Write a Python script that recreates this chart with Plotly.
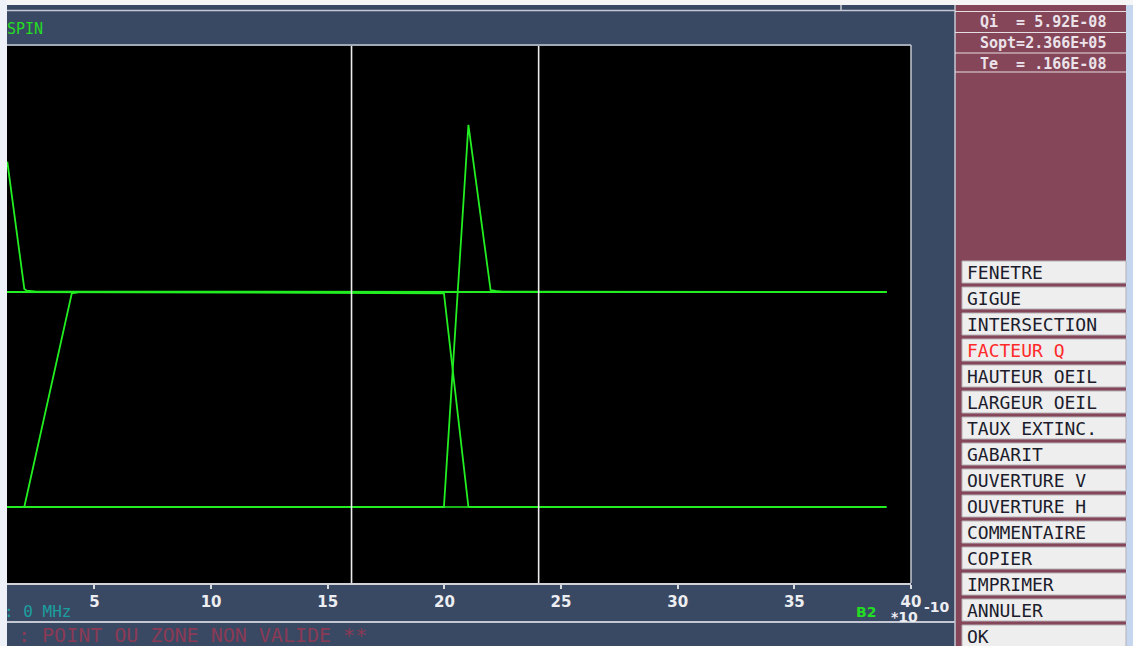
import plotly.graph_objects as go

# ---- data (time axis in units of 1e-10 s, amplitude in normalised levels) ----
baseline_x = [1.253, 38.95]
level_high = [1.0, 1.0]
level_low = [0.0, 0.0]

fall_left_x = [1.266, 1.996, 2.10, 2.53, 38.95]
fall_left_y = [1.606, 1.014, 1.006, 1.002, 1.0]

rise_left_x = [1.253, 1.996, 4.03, 4.39, 38.95]
rise_left_y = [0.0, 0.001, 0.994, 1.0, 1.0]

rise_peak_x = [1.253, 19.98, 21.03, 21.98, 22.20, 22.48, 38.95]
rise_peak_y = [0.0, 0.0, 1.777, 1.009, 1.005, 1.001, 1.0]

fall_mid_x = [1.253, 19.98, 21.03, 21.47, 38.95]
fall_mid_y = [1.0, 0.994, 0.001, 0.0, 0.0]

markers_x = [16.02, 24.04]

tick_vals = [5, 10, 15, 20, 25, 30, 35, 40]
tick_text = ["5", "10", "15", "20", "25", "30", "35", "40"]

menu_items = ["FENETRE", "GIGUE", "INTERSECTION", "FACTEUR Q", "HAUTEUR OEIL",
              "LARGEUR OEIL", "TAUX EXTINC.", "GABARIT", "OUVERTURE V",
              "OUVERTURE H", "COMMENTAIRE", "COPIER", "IMPRIMER", "ANNULER", "OK"]
active_item = "FACTEUR Q"

info_rows = ["Qi  = 5.92E-08", "Sopt=2.366E+05", "Te  = .166E-08"]

# ---- geometry of the window ----
W, H = 1133, 646
PL, PR, PT, PB = 7, 911, 46, 583

SLATE = "#3a4963"
MAROON = "#854659"
FRAME = "#c4c8d2"
GREEN = "#22ee22"


def px(x):
    return (x - PL) / (PR - PL)


def py(y):
    return (PB - y) / (PB - PT)


fig = go.Figure()

line_green = dict(color=GREEN, width=1.3)
trace_green = dict(color=GREEN, width=1.8)

fig.add_trace(go.Scatter(x=baseline_x, y=level_high, mode="lines", line=line_green))
fig.add_trace(go.Scatter(x=baseline_x, y=level_low, mode="lines", line=line_green))
fig.add_trace(go.Scatter(x=fall_left_x, y=fall_left_y, mode="lines", line=trace_green))
fig.add_trace(go.Scatter(x=rise_left_x, y=rise_left_y, mode="lines", line=trace_green))
fig.add_trace(go.Scatter(x=rise_peak_x, y=rise_peak_y, mode="lines", line=trace_green))
fig.add_trace(go.Scatter(x=fall_mid_x, y=fall_mid_y, mode="lines", line=trace_green))

shapes = []
# cursor lines
for mx in markers_x:
    shapes.append(dict(type="line", xref="x", yref="paper", x0=mx, x1=mx, y0=0, y1=1,
                       line=dict(color="#ececec", width=1.6)))

# window chrome
shapes.append(dict(type="rect", xref="paper", yref="paper", x0=px(0), x1=px(W),
                   y0=py(0), y1=py(5), fillcolor="#f6f6f6", line_width=0, layer="above"))
shapes.append(dict(type="line", xref="paper", yref="paper", x0=px(0), x1=px(955),
                   y0=py(10.5), y1=py(10.5), line=dict(color=FRAME, width=1.5)))
shapes.append(dict(type="line", xref="paper", yref="paper", x0=px(841), x1=px(841),
                   y0=py(5), y1=py(10.5), line=dict(color=FRAME, width=1.5)))
shapes.append(dict(type="line", xref="paper", yref="paper", x0=px(0), x1=px(PR),
                   y0=py(45), y1=py(45), line=dict(color=FRAME, width=1.5)))
shapes.append(dict(type="line", xref="paper", yref="paper", x0=px(PR), x1=px(PR),
                   y0=py(45), y1=py(PB), line=dict(color=FRAME, width=1.5)))
shapes.append(dict(type="line", xref="paper", yref="paper", x0=px(0), x1=px(955),
                   y0=py(622), y1=py(622), line=dict(color=FRAME, width=2)))

# right-hand panel
shapes.append(dict(type="rect", xref="paper", yref="paper", x0=px(1126), x1=px(W),
                   y0=py(5), y1=py(H), fillcolor="#c6d6ee", line_width=0))
shapes.append(dict(type="rect", xref="paper", yref="paper", x0=px(955), x1=px(1126),
                   y0=py(5), y1=py(H), fillcolor=MAROON, line_width=0))
shapes.append(dict(type="line", xref="paper", yref="paper", x0=px(955), x1=px(955),
                   y0=py(5), y1=py(H), line=dict(color=FRAME, width=1.5)))
for ly in [11.5, 32.5, 53, 72]:
    shapes.append(dict(type="line", xref="paper", yref="paper", x0=px(955), x1=px(1126),
                       y0=py(ly), y1=py(ly), line=dict(color="#e6dde2", width=1.2)))

annotations = []
for i, label in enumerate(menu_items):
    cy = 272 + 26 * i
    shapes.append(dict(type="rect", xref="paper", yref="paper", x0=px(962), x1=px(1126),
                       y0=py(cy - 11), y1=py(cy + 11), fillcolor="#eeeeee",
                       line=dict(color="#b4b0b4", width=1)))
    annotations.append(dict(xref="paper", yref="paper", x=px(965), y=py(cy),
                            xanchor="left", yanchor="middle", text=label, showarrow=False,
                            font=dict(family="DejaVu Sans Mono", size=18,
                                      color="#ff2a2a" if label == active_item else "#1c1c2c")))

for i, row in enumerate(info_rows):
    cy = 21 + 21 * i
    annotations.append(dict(xref="paper", yref="paper", x=px(978), y=py(cy + 1),
                            xanchor="left", yanchor="middle", text=row, showarrow=False,
                            font=dict(family="DejaVu Sans Mono", size=15, color="#ebe2ea",
                                      weight="bold")))

annotations.append(dict(xref="paper", yref="paper", x=px(5), y=py(29.5), xanchor="left",
                        yanchor="middle", text="SPIN", showarrow=False,
                        font=dict(family="DejaVu Sans Mono", size=15, color="#22dd22")))
annotations.append(dict(xref="paper", yref="paper", x=px(2), y=py(612), xanchor="left",
                        yanchor="middle", text=": 0 MHz", showarrow=False,
                        font=dict(family="DejaVu Sans Mono", size=16, color="#1a9fa0")))
annotations.append(dict(xref="paper", yref="paper", x=px(854), y=py(612), xanchor="left",
                        yanchor="middle", text="B2", showarrow=False,
                        font=dict(family="DejaVu Sans", size=14, color="#22dd22",
                                  weight="bold")))
annotations.append(dict(xref="paper", yref="paper", x=px(889), y=py(617), xanchor="left",
                        yanchor="middle", text="*10", showarrow=False,
                        font=dict(family="DejaVu Sans", size=14, color="#eceef2",
                                  weight="bold")))
annotations.append(dict(xref="paper", yref="paper", x=px(922), y=py(607), xanchor="left",
                        yanchor="middle", text="-10", showarrow=False,
                        font=dict(family="DejaVu Sans", size=14, color="#eceef2",
                                  weight="bold")))
annotations.append(dict(xref="paper", yref="paper", x=px(16), y=py(635), xanchor="left",
                        yanchor="middle", text=": POINT OU ZONE NON VALIDE **",
                        showarrow=False,
                        font=dict(family="DejaVu Sans Mono", size=20, color="#8a3a55")))

# light window border down the left side
shapes.append(dict(type="rect", xref="paper", yref="paper", x0=px(0), x1=px(PL),
                   y0=py(0), y1=py(H), fillcolor="#eef2f8", line_width=0, layer="above"))

fig.update_layout(
    width=W, height=H,
    margin=dict(l=PL, r=W - PR, t=PT, b=H - PB, pad=0),
    paper_bgcolor=SLATE,
    plot_bgcolor="#000000",
    showlegend=False,
    shapes=shapes,
    annotations=annotations,
    xaxis=dict(range=[1.253, 40], showgrid=False, zeroline=False,
               tickmode="array", tickvals=tick_vals, ticktext=tick_text,
               ticks="outside", ticklen=4, tickwidth=1.5, tickcolor="#d8dae0",
               showline=True, linecolor="#d0d2d8", linewidth=1.5,
               tickfont=dict(family="DejaVu Sans", size=15, color="#eceef2",
                             weight="bold")),
    yaxis=dict(range=[-0.3535, 2.144], showgrid=False, zeroline=False,
               showticklabels=False, ticks=""),
)

fig.write_html("out.html")
